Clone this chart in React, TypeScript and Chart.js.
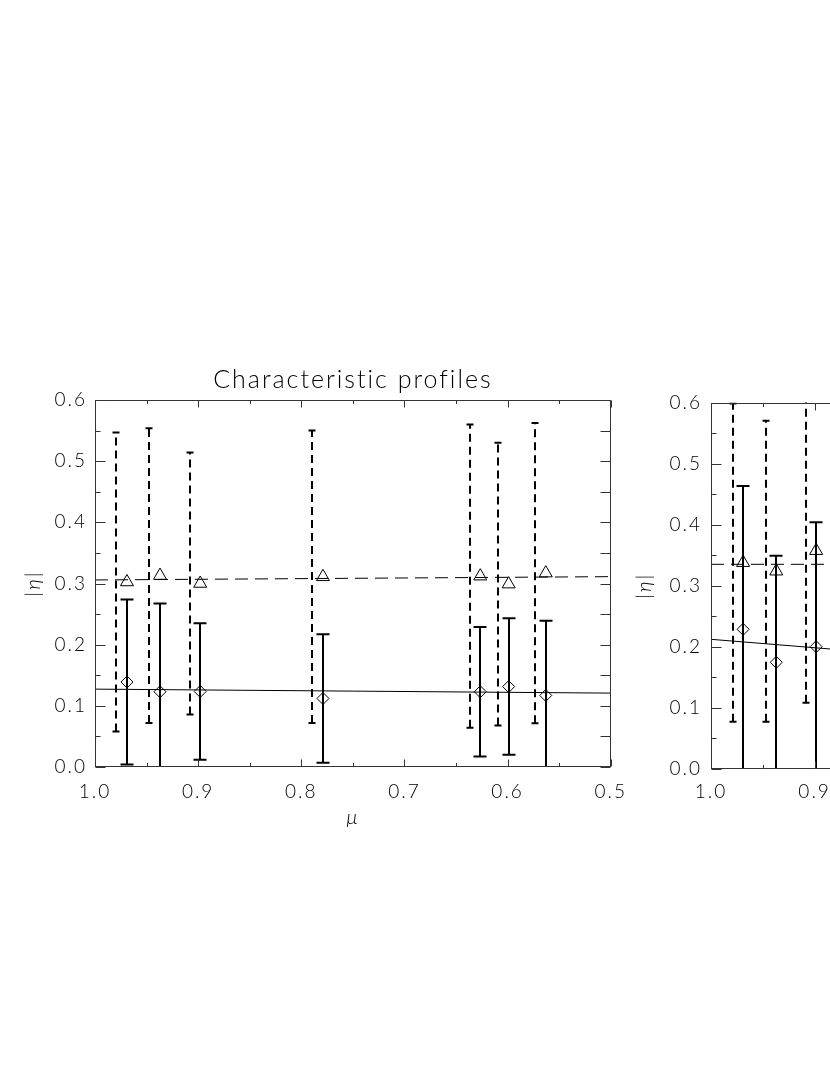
import React, { useEffect, useRef } from "react";
import { Chart, registerables } from "chart.js";

Chart.register(...registerables);

// ---------------- data ----------------
const MU = [0.969, 0.937, 0.898, 0.779, 0.6265, 0.599, 0.563];
const TRI_LEFT = [0.3025, 0.313, 0.3, 0.311, 0.312, 0.299, 0.317];
const TRI_ERR_LEFT = [0.2445, 0.241, 0.214, 0.239, 0.248, 0.231, 0.2455];
const DIA_LEFT = [0.139, 0.123, 0.1235, 0.112, 0.123, 0.1315, 0.117];
const DIA_ERR_LEFT = [0.135, 0.1445, 0.1115, 0.105, 0.106, 0.1115, 0.122];
const FIT_MU = [1.0, 0.5];
const FIT_TRI_LEFT = [0.3058, 0.3112];
const FIT_DIA_LEFT = [0.1273, 0.1208];

const MU_RIGHT = [0.969, 0.937, 0.8985];
const TRI_RIGHT = [0.3378, 0.3238, 0.3574];
const TRI_ERR_RIGHT = [0.2604, 0.2464, 0.2489];
const DIA_RIGHT = [0.2287, 0.1747, 0.2002];
const DIA_ERR_RIGHT = [0.2346, 0.1745, 0.2037];
const FIT_TRI_RIGHT = [0.3351, 0.3351];
const FIT_DIA_RIGHT = [0.2123, 0.1435];

const X_TICKS = [1.0, 0.9, 0.8, 0.7, 0.6, 0.5];
const X_MINOR = [0.95, 0.85, 0.75, 0.65, 0.55];
const Y_TICKS = [0.0, 0.1, 0.2, 0.3, 0.4, 0.5, 0.6];
const Y_MINOR = [0.05, 0.15, 0.25, 0.35, 0.45, 0.55];

const TITLE = "Characteristic profiles";
const X_LABEL = "\u03bc";
const Y_LABEL = "|\u03b7|";

// ---------------- plugins ----------------
const spacingPlugin = {
  id: "spacing",
  beforeLayout(chart: any) {
    chart.ctx.letterSpacing = "2px";
  },
  beforeDraw(chart: any) {
    chart.ctx.letterSpacing = "2px";
  },
};

const errPlugin = {
  id: "errbars",
  beforeDatasetsDraw(chart: any, _args: any, opts: any) {
    const { ctx, chartArea: a, scales } = chart;
    const xs = scales.x;
    const ys = scales.y;
    ctx.save();
    ctx.beginPath();
    ctx.rect(a.left, a.top, a.right - a.left, a.bottom - a.top);
    ctx.clip();
    ctx.strokeStyle = "#000";
    for (const s of opts.sets) {
      ctx.lineWidth = s.width;
      s.x.forEach((mu: number, i: number) => {
        const px = Math.round(xs.getPixelForValue(mu + s.shift));
        const yTop = ys.getPixelForValue(s.y[i] + s.err[i]);
        const yBot = ys.getPixelForValue(s.y[i] - s.err[i]);
        ctx.setLineDash(s.dash);
        ctx.beginPath();
        ctx.moveTo(px, yBot);
        ctx.lineTo(px, yTop);
        ctx.stroke();
        ctx.setLineDash([]);
        ctx.beginPath();
        ctx.moveTo(px - s.cap, yTop);
        ctx.lineTo(px + s.cap, yTop);
        ctx.moveTo(px - s.cap, yBot);
        ctx.lineTo(px + s.cap, yBot);
        ctx.stroke();
      });
    }
    ctx.restore();
  },
};

const framePlugin = {
  id: "frame",
  afterDraw(chart: any) {
    const { ctx, chartArea: a, scales } = chart;
    const xs = scales.x;
    const ys = scales.y;
    const L = Math.round(a.left) + 0.5;
    const R = Math.round(a.right) - 0.5;
    const T = Math.round(a.top) + 0.5;
    const B = Math.round(a.bottom) - 0.5;
    ctx.save();
    ctx.strokeStyle = "#333";
    ctx.lineWidth = 1;
    ctx.strokeRect(L, T, R - L, B - T);
    ctx.beginPath();
    const xt = (v: number, len: number) => {
      const px = Math.round(xs.getPixelForValue(v)) + 0.5;
      ctx.moveTo(px, B);
      ctx.lineTo(px, B - len);
      ctx.moveTo(px, T);
      ctx.lineTo(px, T + len);
    };
    const yt = (v: number, lenL: number, lenR: number) => {
      const py = Math.round(ys.getPixelForValue(v)) + 0.5;
      ctx.moveTo(L, py);
      ctx.lineTo(L + lenL, py);
      ctx.moveTo(R, py);
      ctx.lineTo(R - lenR, py);
    };
    X_TICKS.forEach((v) => xt(v, 7));
    X_MINOR.forEach((v) => xt(v, 3.5));
    Y_TICKS.forEach((v) => yt(v, 10, 10));
    Y_MINOR.forEach((v) => yt(v, 5, 10));
    ctx.stroke();
    ctx.restore();
  },
};

// ---------------- chart panel ----------------
type PanelProps = {
  left: number;
  mu: number[];
  tri: number[];
  triErr: number[];
  dia: number[];
  diaErr: number[];
  fitTri: number[];
  fitDia: number[];
  title: string | null;
  padTop: number;
  padRight: number;
  xAxisH: number;
  yAxisW: number;
  yTitlePad: number;
  yTickPad: number;
  xTickPad: number;
};

const FONT = "Lato, 'DejaVu Sans', sans-serif";

function Panel(p: PanelProps) {
  const ref = useRef<HTMLCanvasElement | null>(null);
  useEffect(() => {
    if (!ref.current) return;
    const pts = (xs: number[], ys: number[]) => xs.map((x, i) => ({ x, y: ys[i] }));
    const chart = new Chart(ref.current, {
      type: "scatter",
      data: {
        datasets: [
          {
            data: pts(FIT_MU, p.fitTri),
            showLine: true,
            borderColor: "#000",
            borderWidth: 1,
            borderDash: [13, 7],
            pointRadius: 0,
          },
          {
            data: pts(FIT_MU, p.fitDia),
            showLine: true,
            borderColor: "#000",
            borderWidth: 1,
            pointRadius: 0,
          },
          {
            data: pts(p.mu, p.tri),
            pointStyle: "triangle",
            pointRadius: 7.5,
            borderColor: "#000",
            backgroundColor: "rgba(0,0,0,0)",
            borderWidth: 1,
          },
          {
            data: pts(p.mu, p.dia),
            pointStyle: "rectRot",
            pointRadius: 6,
            borderColor: "#000",
            backgroundColor: "rgba(0,0,0,0)",
            borderWidth: 1,
          },
        ],
      } as any,
      options: {
        responsive: false,
        animation: false,
        events: [],
        layout: { padding: { left: 0, top: p.padTop, right: p.padRight, bottom: 0 } },
        plugins: {
          legend: { display: false },
          tooltip: { enabled: false },
          title: {
            display: !!p.title,
            text: p.title || "",
            color: "#000",
            fullSize: false,
            font: { family: FONT, size: 25, weight: "300" },
            padding: { top: 25, bottom: 5 },
          },
          errbars: {
            sets: [
              { x: p.mu, y: p.tri, err: p.triErr, shift: 0.0102, dash: [8, 5], cap: 3.5, width: 2 },
              { x: p.mu, y: p.dia, err: p.diaErr, shift: 0, dash: [], cap: 6.5, width: 2 },
            ],
          },
        } as any,
        scales: {
          x: {
            type: "linear",
            min: 0.5,
            max: 1.0,
            reverse: true,
            position: "bottom",
            grid: { display: false, drawTicks: false },
            border: { display: false },
            afterBuildTicks: (s: any) => {
              s.ticks = X_TICKS.map((v) => ({ value: v }));
            },
            afterFit: (s: any) => {
              s.height = p.xAxisH;
            },
            ticks: {
              color: "#000",
              padding: p.xTickPad,
              autoSkip: false,
              maxRotation: 0,
              font: { family: FONT, size: 19, weight: "300" },
              callback: (v: any) => Number(v).toFixed(1),
            },
            title: {
              display: true,
              text: X_LABEL,
              color: "#000",
              font: { family: FONT, size: 20, style: "italic", weight: "300" },
              padding: { top: 0, bottom: 10 },
            },
          },
          y: {
            type: "linear",
            min: 0,
            max: 0.6,
            grid: { display: false, drawTicks: false },
            border: { display: false },
            afterBuildTicks: (s: any) => {
              s.ticks = Y_TICKS.map((v) => ({ value: v }));
            },
            afterFit: (s: any) => {
              s.width = p.yAxisW;
            },
            ticks: {
              color: "#000",
              padding: p.yTickPad,
              font: { family: FONT, size: 19, weight: "300" },
              callback: (v: any) => Number(v).toFixed(1),
            },
            title: {
              display: true,
              text: Y_LABEL,
              color: "#000",
              font: { family: FONT, size: 20, style: "italic", weight: "300" },
              padding: { top: p.yTitlePad, bottom: 0 },
            },
          },
        },
      } as any,
      plugins: [spacingPlugin, errPlugin, framePlugin],
    });
    return () => chart.destroy();
  }, []);
  return (
    <canvas
      ref={ref}
      width={640}
      height={500}
      style={{ position: "absolute", left: p.left, top: 340, width: 640, height: 500 }}
    />
  );
}

export default function App() {
  return (
    <div
      style={{
        position: "fixed",
        left: 0,
        top: 0,
        width: 830,
        height: 1075,
        overflow: "hidden",
        background: "#fff",
      }}
    >
      <Panel
        left={0}
        mu={MU}
        tri={TRI_LEFT}
        triErr={TRI_ERR_LEFT}
        dia={DIA_LEFT}
        diaErr={DIA_ERR_LEFT}
        fitTri={FIT_TRI_LEFT}
        fitDia={FIT_DIA_LEFT}
        title={TITLE}
        padTop={0}
        padRight={27}
        xAxisH={73}
        yAxisW={95}
        yTitlePad={22}
        yTickPad={8}
        xTickPad={13}
      />
      <Panel
        left={620}
        mu={MU_RIGHT}
        tri={TRI_RIGHT}
        triErr={TRI_ERR_RIGHT}
        dia={DIA_RIGHT}
        diaErr={DIA_ERR_RIGHT}
        fitTri={FIT_TRI_RIGHT}
        fitDia={FIT_DIA_RIGHT}
        title={null}
        padTop={62.5}
        padRight={31}
        xAxisH={71}
        yAxisW={91}
        yTitlePad={13}
        yTickPad={9}
        xTickPad={11}
      />
    </div>
  );
}
